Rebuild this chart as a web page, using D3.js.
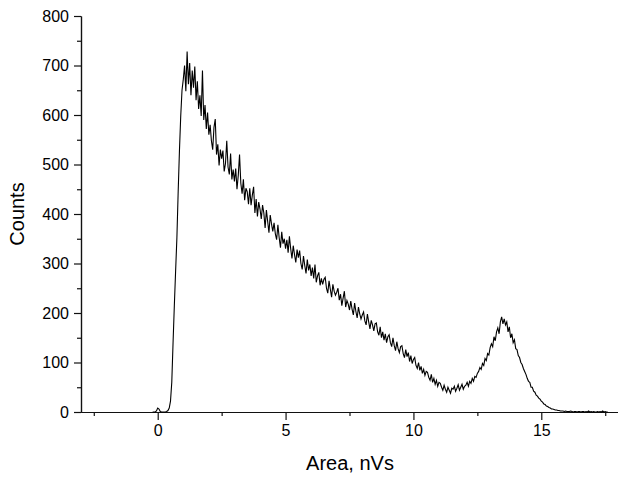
<!DOCTYPE html>
<html>
<head>
<meta charset="utf-8">
<script src="https://cdn.jsdelivr.net/npm/d3@7"></script>
<style>
    body { margin: 0; background: #fff; }
    svg text { font-family: "Liberation Sans", Arial, sans-serif; fill: #000; }
</style>
</head>
<body>
<svg class="spectrum" width="618" height="479"></svg>
<script>

// histogram bins: first bin centre and bin width (nVs)
const areaStart = -0.2;
const binWidth = 0.05;

// counts per bin
const counts = [
    0, 0, 0, 2, 8, 6, 1, 0, 0, 0, 0, 1, 3,
    8, 22, 60, 140, 215, 285, 352, 445, 528, 598, 650,
    672, 700, 648, 728, 662, 705, 640, 690, 655, 698, 630,
    668, 612, 640, 598, 690, 590, 620, 572, 605, 560,
    580, 548, 530, 575, 592, 520, 541, 498, 530, 512,
    528, 486, 502, 548, 495, 480, 522, 470, 490, 466,
    492, 450, 478, 520, 462, 441, 470, 428, 452, 445,
    420, 452, 418, 438, 455, 402, 430, 395, 424, 410,
    390, 418, 402, 372, 408, 385, 362, 398, 380, 365,
    382, 360, 348, 378, 352, 332, 364, 340, 350, 330,
    348, 322, 355, 330, 310, 336, 318, 302, 328, 312,
    326, 300, 288, 315, 296, 280, 308, 286, 298, 275,
    292, 270, 298, 262, 275, 282, 256, 270, 258, 268,
    272, 250, 240, 265, 248, 232, 258, 244, 236, 242,
    250, 226, 238, 215, 230, 244, 212, 225, 218, 206,
    224, 208, 196, 220, 203, 190, 212, 198, 188, 196,
    202, 184, 176, 198, 182, 168, 185, 176, 164, 178,
    180, 162, 155, 172, 150, 162, 145, 158, 140, 152,
    156, 140, 132, 150, 134, 124, 142, 128, 120, 132,
    134, 118, 110, 126, 112, 120, 102, 114, 98, 106,
    110, 94, 88, 100, 84, 92, 78, 86, 74, 82,
    80, 70, 64, 76, 60, 68, 56, 64, 52, 60,
    58, 50, 44, 54, 46, 40, 50, 44, 38, 48,
    46, 52, 42, 48, 55, 44, 50, 56, 46, 52,
    54, 60, 52, 62, 58, 68, 62, 72, 70, 78,
    82, 90, 86, 98, 94, 108, 104, 118, 115, 130,
    138, 132, 152, 144, 162, 170, 158, 182, 192, 178,
    188, 176, 182, 162, 172, 150, 158, 140, 146, 128,
    126, 114, 110, 100, 96, 88, 82, 76, 68, 62,
    60, 50, 50, 42, 40, 34, 32, 28, 26, 22,
    20, 16, 15, 12, 11, 9, 8, 6, 6, 5,
    4, 4, 3, 3, 2, 2, 2, 1, 2, 1,
    1, 1, 2, 1, 0, 1, 1, 0, 1, 1,
    0, 1, 1, 0, 1, 0, 2, 0, 1, 0,
    1, 0, 0, 1, 0, 1, 0, 2, 0, 1,
    0, 0
];

const xMajorTicks = [0, 5, 10, 15];
const xMinorTicks = [-2.5, 2.5, 7.5, 12.5, 17.5];
const yMajorTicks = [0, 100, 200, 300, 400, 500, 600, 700, 800];
const yMinorTicks = [50, 150, 250, 350, 450, 550, 650, 750];

const xTitle = "Area, nVs";
const yTitle = "Counts";

const svg = d3.select("svg.spectrum");

const plotLeft = 81, plotRight = 618, plotTop = 16, plotBottom = 412;

const x = d3.scaleLinear().domain([-3, 18]).range([plotLeft, plotRight]);
const y = d3.scaleLinear().domain([0, 800]).range([plotBottom, plotTop]);

const data = counts.map((c, i) => [areaStart + i * binWidth, c]);

// axes
const xAxis = svg.append("g")
    .attr("transform", "translate(0," + plotBottom + ")")
    .call(d3.axisBottom(x).tickValues(xMajorTicks).tickSize(8).tickPadding(5).tickSizeOuter(0));

xAxis.append("g")
    .call(d3.axisBottom(x).tickValues(xMinorTicks).tickSize(4).tickFormat("").tickSizeOuter(0));

const yAxis = svg.append("g")
    .attr("transform", "translate(" + plotLeft + ",0)")
    .call(d3.axisLeft(y).tickValues(yMajorTicks).tickSize(7).tickPadding(5).tickSizeOuter(0));

yAxis.append("g")
    .call(d3.axisLeft(y).tickValues(yMinorTicks).tickSize(4).tickFormat("").tickSizeOuter(0));

svg.selectAll(".domain, .tick line")
    .attr("stroke", "#111")
    .attr("stroke-width", 1.2);

svg.selectAll(".tick text")
    .attr("font-size", 16)
    .attr("font-family", "Liberation Sans, Arial, sans-serif")
    .attr("fill", "#000");

// histogram trace
const line = d3.line()
    .curve(d3.curveLinear)
    .x(d => x(d[0]))
    .y(d => y(d[1]));

svg.append("path")
    .datum(data)
    .attr("d", line)
    .attr("fill", "none")
    .attr("stroke", "#000")
    .attr("stroke-width", 1.1);

// titles
svg.append("text")
    .attr("x", 350)
    .attr("y", 470)
    .attr("text-anchor", "middle")
    .attr("font-size", 20)
    .text(xTitle);

svg.append("text")
    .attr("transform", "translate(24," + ((plotTop + plotBottom) / 2) + ") rotate(-90)")
    .attr("text-anchor", "middle")
    .attr("font-size", 20)
    .text(yTitle);

</script>
</body>
</html>
